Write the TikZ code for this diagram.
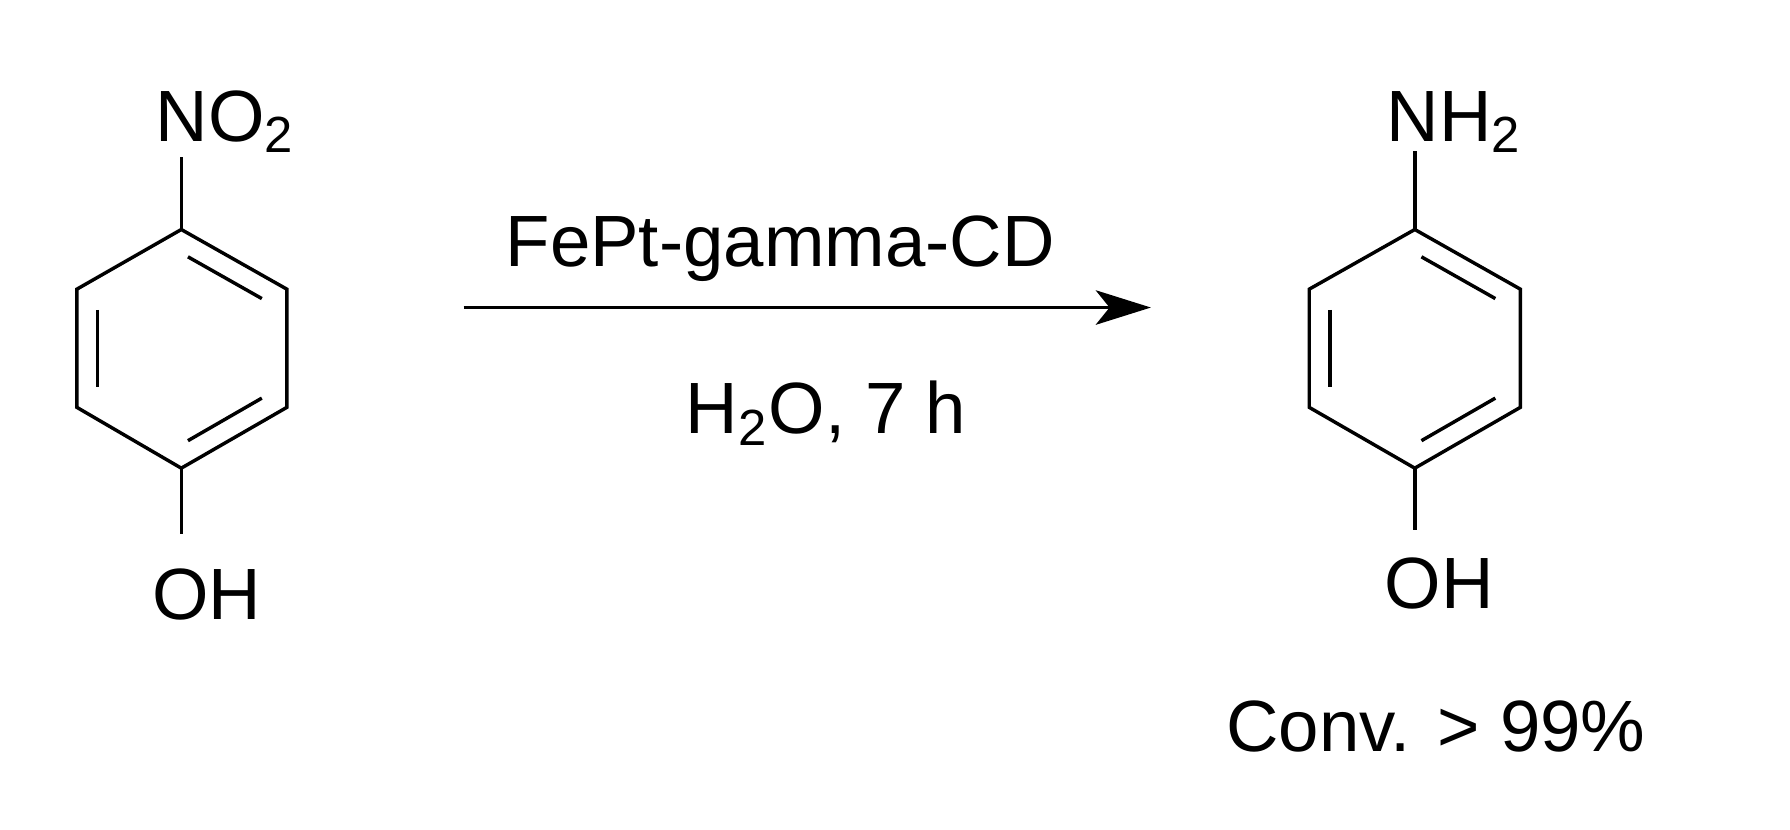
\documentclass[tikz,border=0pt]{standalone}
\usepackage{fontspec}
\setmainfont{Liberation Sans}
\usetikzlibrary{arrows.meta,calc}
\begin{document}
\begin{tikzpicture}[x=0.01cm,y=-0.01cm,
  bond/.style={line width=0.03cm},
  lbl/.style={font=\fontsize{18pt}{20pt}\selectfont,inner sep=0pt,anchor=base west}]
\useasboundingbox (0,0) rectangle (1560,723);
% left ring
\foreach \n/\x/\y in {a1/158/200,a2/250/252,a3/250/355,a4/158/408,a5/67/355,a6/67/252}
  \coordinate (\n) at (\x,\y);
\draw[bond] (a1)--(a2)--(a3)--(a4)--(a5)--(a6)--cycle;
\draw[bond] ($(a1)!0.15!(a2)+(-8,16)$) -- ($(a1)!0.85!(a2)+(-8,16)$);
\draw[bond] ($(a3)!0.15!(a4)+(-8,-16)$) -- ($(a3)!0.85!(a4)+(-8,-16)$);
\draw[bond] (85,270) -- (85,337);
\node[lbl] (no2) at (135,123) {NO\textsubscript{2}};
\node[lbl] (oh1) at (132,540) {OH};
\coordinate (no2b) at (158,137);
\coordinate (oh1b) at (158,465);
\draw[bond] (a1) -- (no2b);
\draw[bond] (a4) -- (oh1b);
% right ring
\foreach \n/\x/\y in {b1/1233/200,b2/1325/252,b3/1325/355,b4/1233/408,b5/1141/355,b6/1141/252}
  \coordinate (\n) at (\x,\y);
\draw[bond] (b1)--(b2)--(b3)--(b4)--(b5)--(b6)--cycle;
\draw[bond] ($(b1)!0.15!(b2)+(-8,16)$) -- ($(b1)!0.85!(b2)+(-8,16)$);
\draw[bond] ($(b3)!0.15!(b4)+(-8,-16)$) -- ($(b3)!0.85!(b4)+(-8,-16)$);
\draw[bond] (1159,270) -- (1159,337);
\node[lbl] (nh2) at (1208,123) {NH\textsubscript{2}};
\node[lbl] (oh2) at (1206,530) {OH};
\coordinate (nh2b) at (1233,132);
\coordinate (oh2b) at (1233,462);
\draw[bond] (b1) -- (nh2b);
\draw[bond] (b4) -- (oh2b);
% arrow
\coordinate (s) at (404,268);
\coordinate (e) at (1003,268);
\draw[bond,-{Stealth[length=0.48cm,width=0.3cm,inset=0.12cm]}] (s) -- (e);
\node[lbl] (cat) at (440,232) {FePt-gamma-CD};
\node[lbl] (cond) at (597,378) {H\textsubscript{2}O, 7 h};
\node[lbl] (conv) at (1068,655) {Conv. > 99\%};
\end{tikzpicture}
\end{document}
